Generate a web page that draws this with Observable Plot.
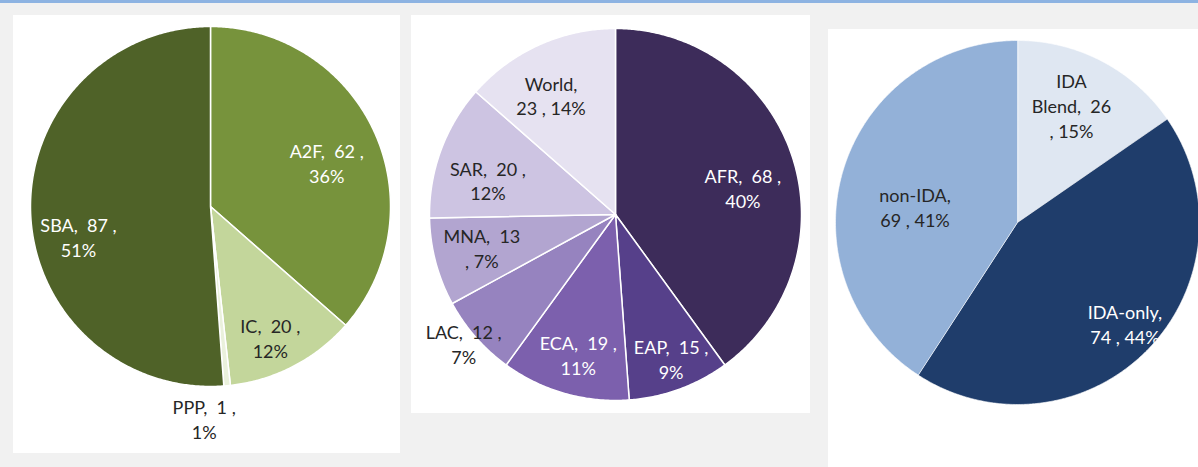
<!DOCTYPE html>
<html>
<head>
<meta charset="utf-8">
<script src="https://cdn.jsdelivr.net/npm/d3@7"></script>
<script src="https://cdn.jsdelivr.net/npm/@observablehq/plot@0.6"></script>
<style>
  html, body { margin: 0; padding: 0; }
  body { width: 1198px; height: 467px; background: #f1f1f1; position: relative; overflow: hidden; font-family: Lato, sans-serif; }
  #topbar { position: absolute; left: 0; top: 0; width: 1198px; height: 3px; background: #8db3e2; }
  .panel { position: absolute; background: #ffffff; }
  .panel svg { display: block; }
</style>
</head>
<body>
<div id="topbar"></div>
<div class="panel" id="p1" style="left:13px; top:15px; width:387px; height:438px;"></div>
<div class="panel" id="p2" style="left:411px; top:15px; width:399px; height:398px;"></div>
<div class="panel" id="p3" style="left:828px; top:29px; width:370px; height:438px;"></div>
<script>
// ---- Data: chart 1 (instrument) ----
const names1 = ["A2F", "IC", "PPP", "SBA"];
const values1 = [62, 20, 1, 87];
const pcts1 = [36, 12, 1, 51];

// ---- Data: chart 2 (region) ----
const names2 = ["AFR", "EAP", "ECA", "LAC", "MNA", "SAR", "World"];
const values2 = [68, 15, 19, 12, 13, 20, 23];
const pcts2 = [40, 9, 11, 7, 7, 12, 14];

// ---- Data: chart 3 (IDA status) ----
const names3 = ["IDA Blend", "IDA-only", "non-IDA"];
const values3 = [26, 74, 69];
const pcts3 = [15, 44, 41];

// ---- Styling / layout (not data) ----
const colors1 = ["#77933c", "#c3d69b", "#eaf1dc", "#4f6228"];
const colors2 = ["#3d2c5a", "#56408a", "#7c60ad", "#9683bf", "#b2a5d0", "#cdc4e2", "#e6e2f1"];
const colors3 = ["#dfe7f2", "#1f3d6b", "#93b1d8"];
const DARK = "#262626", LIGHT = "#ffffff";
const text1 = [LIGHT, DARK, DARK, LIGHT];
const text2 = [LIGHT, LIGHT, LIGHT, DARK, DARK, DARK, DARK];
const text3 = [DARK, LIGHT, DARK];
// label line-break style: A "n, v ,\np%"  B "n,\nv , p%"  C "n, v\n, p%"  D name split + C
const fmt1 = ["A", "A", "A", "A"];
const fmt2 = ["A", "A", "A", "A", "C", "A", "B"];
const fmt3 = ["D", "B", "B"];
const labR1 = [0.69, 0.8, 1.18, 0.752], labDA1 = [3.7, 3, 7, -10.7];
const labR2 = [0.7, 0.83, 0.78, 1.07, 0.74, 0.71, 0.73], labDA2 = [6, -1, -1, 1, 1, -5, -4];
const labR3 = [0.71, 0.81, 0.57], labDA3 = [-3, -1, -7.5];
const SP = " \u00a0";

function labelText(f, n, v, p) {
  if (f === "A") return `${n},${SP}${v} ,\n${p}%`;
  if (f === "B") return `${n},\n${v} , ${p}%`;
  if (f === "C") return `${n},${SP}${v}\n, ${p}%`;
  return `${n.replace(" ", "\n")},${SP}${v}\n, ${p}%`;
}

function pie(opt) {
  const {names, values, pcts, colors, textColors, fmts, labR, labDA, w, h, cx, cy, r, strokeWidth} = opt;
  const arcs = d3.pie().sort(null).value(d => d)(values);
  const sliceMarks = arcs.map((a, i) => {
    const n = Math.max(2, Math.ceil((a.endAngle - a.startAngle) / (Math.PI / 360)));
    const pts = [{x: 0, y: 0}];
    for (let k = 0; k <= n; k++) {
      const t = a.startAngle + (a.endAngle - a.startAngle) * k / n;
      pts.push({x: Math.sin(t), y: Math.cos(t)});
    }
    return Plot.line(pts, {x: "x", y: "y", fill: colors[i], stroke: "#ffffff", strokeWidth, curve: "linear-closed", strokeLinejoin: "round"});
  });
  const labels = arcs.map((a, i) => {
    const t = (a.startAngle + a.endAngle) / 2 + labDA[i] * Math.PI / 180;
    return {x: labR[i] * Math.sin(t), y: labR[i] * Math.cos(t), text: labelText(fmts[i], names[i], values[i], pcts[i]), c: textColors[i]};
  });
  return Plot.plot({
    width: w, height: h, margin: 0,
    x: {domain: [-cx / r, (w - cx) / r], axis: null},
    y: {domain: [-(h - cy) / r, cy / r], axis: null},
    style: {background: "transparent", fontFamily: "Lato, sans-serif", overflow: "visible"},
    marks: [
      ...sliceMarks,
      Plot.text(labels, {x: "x", y: "y", text: "text", fill: "c", fontSize: 18, lineHeight: 1.38, textAnchor: "middle"})
    ]
  });
}

document.getElementById("p1").append(pie({
  names: names1, values: values1, pcts: pcts1, colors: colors1, textColors: text1, fmts: fmt1,
  labR: labR1, labDA: labDA1, w: 387, h: 438, cx: 197, cy: 191, r: 180, strokeWidth: 1.5
}));
document.getElementById("p2").append(pie({
  names: names2, values: values2, pcts: pcts2, colors: colors2, textColors: text2, fmts: fmt2,
  labR: labR2, labDA: labDA2, w: 399, h: 398, cx: 204, cy: 199, r: 186, strokeWidth: 1.5
}));
document.getElementById("p3").append(pie({
  names: names3, values: values3, pcts: pcts3, colors: colors3, textColors: text3, fmts: fmt3,
  labR: labR3, labDA: labDA3, w: 370, h: 438, cx: 189, cy: 193, r: 182, strokeWidth: 0.6
}));
</script>
</body>
</html>
